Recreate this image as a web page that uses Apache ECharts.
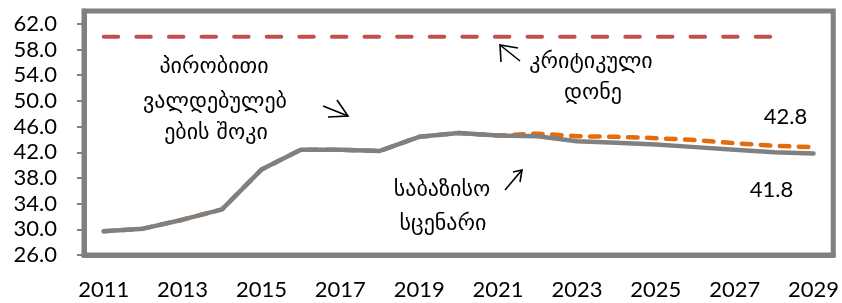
<!DOCTYPE html>
<html>
<head>
<meta charset="utf-8">
<script src="https://cdn.jsdelivr.net/npm/echarts@6/dist/echarts.min.js"></script>
<style>
html,body{margin:0;padding:0;background:#fff;}
#c{width:842px;height:303px;}
</style>
</head>
<body>
<div id="c"></div>
<script>
var years = ['2011','2012','2013','2014','2015','2016','2017','2018','2019','2020','2021','2022','2023','2024','2025','2026','2027','2028','2029'];
var baseline = [29.7, 30.1, 31.5, 33.1, 39.3, 42.4, 42.4, 42.2, 44.4, 45.0, 44.6, 44.5, 43.7, 43.5, 43.2, 42.8, 42.4, 42.0, 41.8];
var shock = [29.7, 30.1, 31.5, 33.1, 39.3, 42.4, 42.4, 42.2, 44.4, 45.0, 44.6, 44.9, 44.5, 44.4, 44.2, 43.9, 43.4, 43.0, 42.8];
var critical = [60, 60, 60, 60, 60, 60, 60, 60, 60, 60, 60, 60, 60, 60, 60, 60, 60, 60, null];
var yMin = 26, yMax = 64, yStep = 4;

var NUMFONT = 'Lato, "Open Sans", sans-serif';
var GEOFONT = '"DejaVu Sans", sans-serif';

function lastLabel(arr, opts) {
  return arr.map(function (v, i) {
    if (i === arr.length - 1) {
      return { value: v, label: Object.assign({ show: true, formatter: function (p) { return Number(p.value).toFixed(1); },
        fontFamily: NUMFONT, fontSize: 22, color: '#000' }, opts) };
    }
    return v;
  });
}

var chart = echarts.init(document.getElementById('c'), null, { renderer: 'canvas' });
var arrowStyle = { stroke: '#000', lineWidth: 1.6, fill: null };
var geo = function (t, x, y) {
  return { type: 'text', x: x, y: y, style: { text: t, font: '22px ' + GEOFONT, fill: '#000', align: 'center', verticalAlign: 'middle' } };
};
chart.setOption({
  animation: false,
  backgroundColor: '#fff',
  grid: { left: 84, top: 11, right: 7, bottom: 48, show: true, borderColor: '#808080', borderWidth: 5, backgroundColor: 'transparent' },
  xAxis: {
    type: 'category', data: years, boundaryGap: true,
    axisLine: { lineStyle: { color: '#808080', width: 5 } },
    axisTick: { interval: 0, length: 7, lineStyle: { color: '#808080', width: 2 } },
    axisLabel: { interval: 1, margin: 24, fontFamily: NUMFONT, fontSize: 22, color: '#000' },
    splitLine: { show: false }
  },
  yAxis: {
    type: 'value', min: yMin, max: yMax, interval: yStep,
    axisLine: { show: true, lineStyle: { color: '#808080', width: 5 } },
    axisTick: { show: true, length: 7, lineStyle: { color: '#808080', width: 2 } },
    axisLabel: { margin: 27, fontFamily: NUMFONT, fontSize: 22, color: '#000', showMaxLabel: false,
      formatter: function (v) { return v === yMax ? '' : v.toFixed(1); } },
    splitLine: { show: false }
  },
  series: [
    { type: 'line', data: critical, symbol: 'none', z: 2,
      lineStyle: { color: '#C0504D', width: 4, type: [14.5, 18.1], cap: 'round' } },
    { type: 'line', data: lastLabel(shock, { position: 'top', offset: [-28, -14] }), symbol: 'circle', symbolSize: 0.01, showSymbol: true, z: 3,
      itemStyle: { color: 'transparent', borderWidth: 0 },
      lineStyle: { color: '#E46C0A', width: 4.5, type: [9.5, 9.5], cap: 'round' } },
    { type: 'line', data: lastLabel(baseline, { position: 'bottom', offset: [-42, 20] }), symbol: 'circle', symbolSize: 0.01, showSymbol: true, z: 4,
      itemStyle: { color: 'transparent', borderWidth: 0 },
      lineStyle: { color: '#808080', width: 4.5, cap: 'round', join: 'round' } }
  ],
  graphic: [
    geo('პირობითი', 214, 67),
    geo('ვალდებულებ', 215, 102),
    geo('ების შოკი', 216, 133),
    geo('კრიტიკული', 591, 62),
    geo('დონე', 593, 93),
    geo('საბაზისო', 442, 190),
    geo('სცენარი', 443, 224),
    { type: 'polyline', shape: { points: [[323, 106], [348, 116]] }, style: arrowStyle },
    { type: 'polyline', shape: { points: [[337, 100], [348, 116], [328, 117]] }, style: arrowStyle },
    { type: 'polyline', shape: { points: [[520, 61], [500, 45]] }, style: arrowStyle },
    { type: 'polyline', shape: { points: [[501, 62], [500, 45], [518, 48]] }, style: arrowStyle },
    { type: 'polyline', shape: { points: [[505, 190], [522, 170]] }, style: arrowStyle },
    { type: 'polyline', shape: { points: [[513, 172], [522, 170], [520, 182]] }, style: arrowStyle }
  ]
});
</script>
</body>
</html>
